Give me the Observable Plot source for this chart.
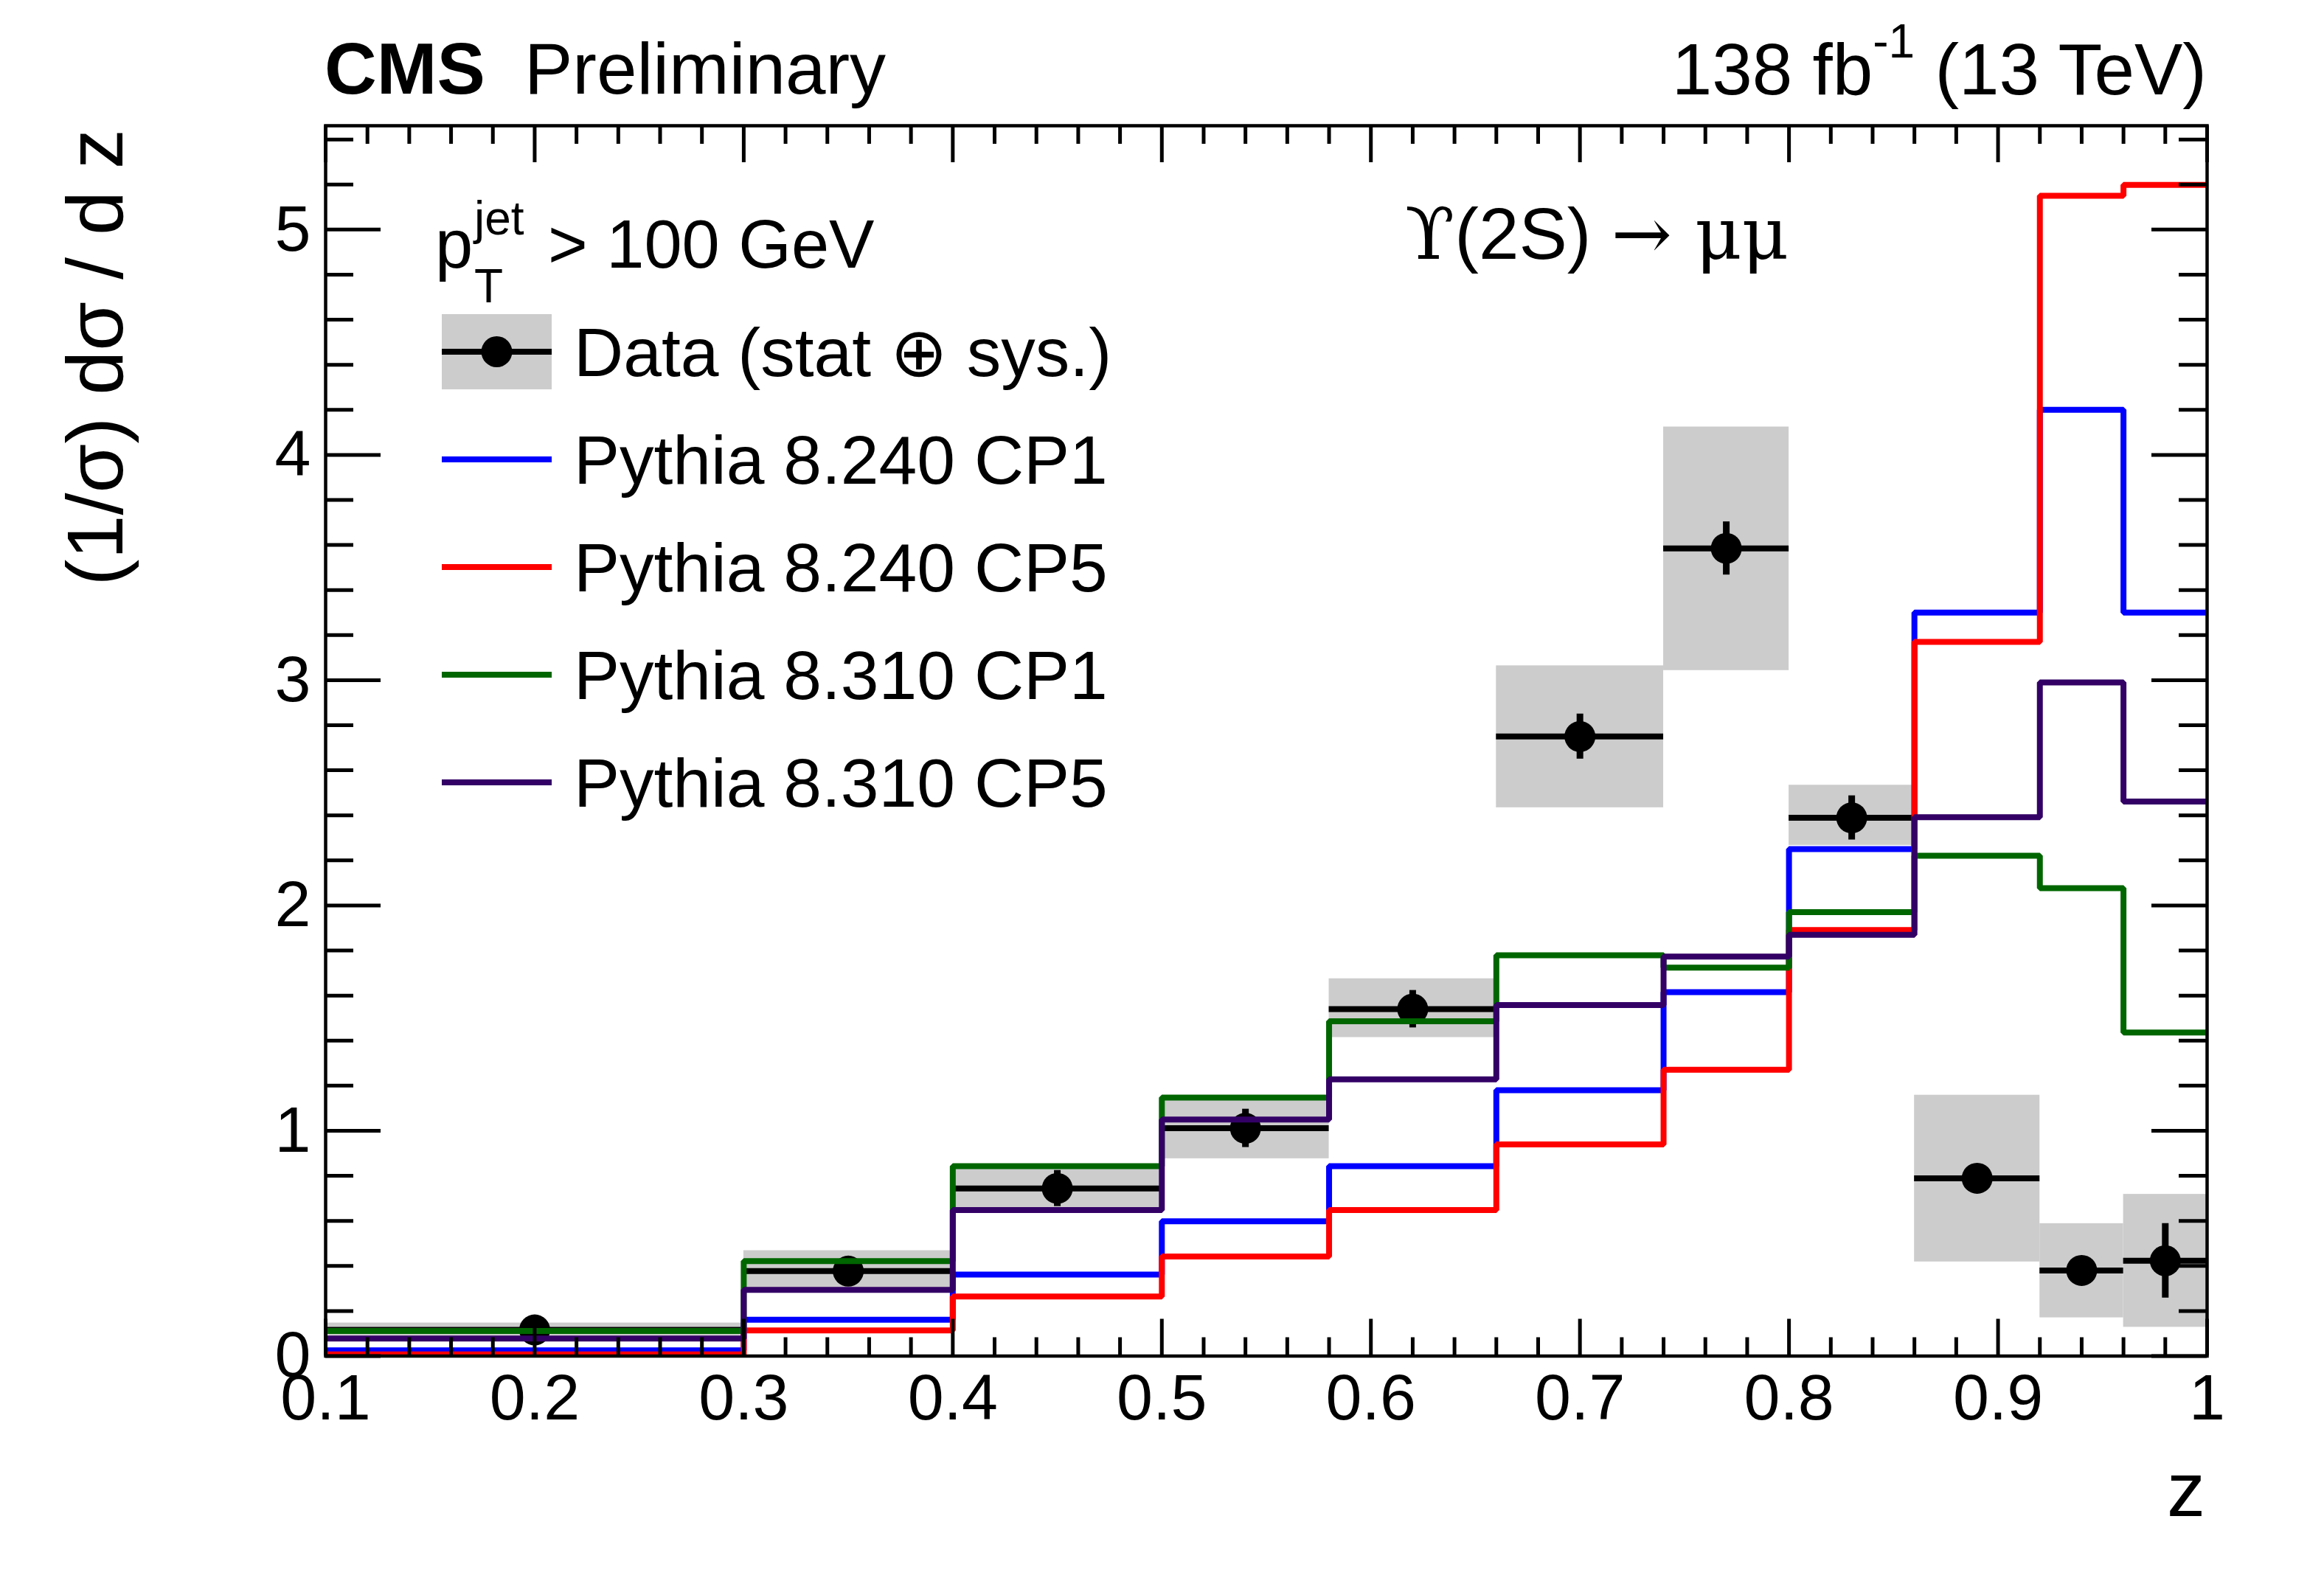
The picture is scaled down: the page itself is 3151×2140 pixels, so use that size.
<!DOCTYPE html>
<html>
<head>
<meta charset="utf-8">
<script src="https://cdn.jsdelivr.net/npm/d3@7"></script>
<script src="https://cdn.jsdelivr.net/npm/@observablehq/plot@0.6"></script>
<style>
  html, body { margin: 0; padding: 0; background: #ffffff; overflow: hidden; }
  #chart svg { display: block; }
</style>
</head>
<body>
<div id="chart"></div>
<script>
// ---------------- data ----------------
const binEdges = [0.1, 0.3, 0.4, 0.5, 0.58, 0.66, 0.74, 0.8, 0.86, 0.92, 0.96, 1.0];
const binCenters = [0.2, 0.35, 0.45, 0.54, 0.62, 0.70, 0.77, 0.83, 0.89, 0.94, 0.98];

const dataValues  = [0.116, 0.377, 0.744, 1.011, 1.540, 2.750, 3.585, 2.389, 0.789, 0.380, 0.423];
const dataStatErr = [0.020, 0.050, 0.080, 0.085, 0.083, 0.100, 0.118, 0.098, 0.050, 0.050, 0.165];
const dataTotLow  = [0.085, 0.295, 0.655, 0.876, 1.414, 2.434, 3.043, 2.267, 0.418, 0.170, 0.128];
const dataTotHigh = [0.147, 0.468, 0.840, 1.140, 1.675, 3.064, 4.124, 2.534, 1.158, 0.588, 0.718];

const py8240CP1 = [0.025, 0.161, 0.362, 0.598, 0.843, 1.180, 1.615, 2.250, 3.300, 4.200, 3.300];
const py8240CP5 = [0.007, 0.114, 0.264, 0.442, 0.648, 0.939, 1.271, 1.891, 3.170, 5.150, 5.198];
const py8310CP1 = [0.111, 0.421, 0.843, 1.147, 1.486, 1.779, 1.724, 1.970, 2.221, 2.077, 1.436];
const py8310CP5 = [0.078, 0.294, 0.648, 1.050, 1.228, 1.558, 1.773, 1.870, 2.392, 2.990, 2.461];

const seriesNames  = ["Pythia 8.240 CP1", "Pythia 8.240 CP5", "Pythia 8.310 CP1", "Pythia 8.310 CP5"];
const seriesValues = [py8240CP1, py8240CP5, py8310CP1, py8310CP5];
const seriesColors = ["#0000ff", "#ff0000", "#006600", "#330066"];

const xTickValues = [0.1, 0.2, 0.3, 0.4, 0.5, 0.6, 0.7, 0.8, 0.9, 1.0];
const xTickLabels = ["0.1", "0.2", "0.3", "0.4", "0.5", "0.6", "0.7", "0.8", "0.9", "1"];
const yTickValues = [0, 1, 2, 3, 4, 5];
const yTickLabels = ["0", "1", "2", "3", "4", "5"];

const dataLegend = "Data (stat \u2295 sys.)";

// ---------------- layout ----------------
const W = 3151, H = 2140;
const mL = 441, mR = 159, mT = 170, mB = 301.5;
const plotW = W - mL - mR, plotH = H - mT - mB;
const FONT = "'Liberation Sans', Arial, Helvetica, sans-serif";
const SERIF = "'DejaVu Serif', 'Liberation Serif', serif";

// minor ticks
const xMinor = d3.range(0, 46).map(i => +(0.1 + i * 0.02).toFixed(2)).filter(v => Math.abs(v * 10 - Math.round(v * 10)) > 1e-6);
const yMinor = d3.range(0, 28).map(i => +(i * 0.2).toFixed(1)).filter(v => Math.abs(v - Math.round(v)) > 1e-6);

// tables
const boxes = dataValues.map((v, i) => ({x1: binEdges[i], x2: binEdges[i + 1], lo: dataTotLow[i], hi: dataTotHigh[i]}));
const points = dataValues.map((v, i) => ({
  x: binCenters[i], y: v, x1: binEdges[i], x2: binEdges[i + 1],
  elo: v - dataStatErr[i], ehi: v + dataStatErr[i]
}));
function stepTable(vals) {
  return binEdges.map((e, i) => ({x: e, y: vals[Math.min(i, vals.length - 1)]}));
}

const marks = [
  Plot.rect(boxes, {x1: "x1", x2: "x2", y1: "lo", y2: "hi", fill: "#cccccc"}),
  Plot.ruleY(points, {y: "y", x1: "x1", x2: "x2", stroke: "black", strokeWidth: 8}),
  Plot.ruleX(points, {x: "x", y1: "elo", y2: "ehi", stroke: "black", strokeWidth: 9}),
  Plot.dot(points, {x: "x", y: "y", r: 21, fill: "black", stroke: "none"})
];
seriesValues.forEach((vals, k) => {
  marks.push(Plot.line(stepTable(vals), {
    x: "x", y: "y", curve: "step-after", stroke: seriesColors[k],
    strokeWidth: 8, strokeLinejoin: "miter", strokeLinecap: "butt"
  }));
});
// ticks (ROOT style, inside, on all four sides)
const tk = {stroke: "black", strokeWidth: 5};
marks.push(
  Plot.ruleX(xTickValues, {x: d => d, insetTop: plotH - 50, ...tk}),
  Plot.ruleX(xMinor, {x: d => d, insetTop: plotH - 25, ...tk}),
  Plot.ruleX(xTickValues, {x: d => d, insetBottom: plotH - 50, ...tk}),
  Plot.ruleX(xMinor, {x: d => d, insetBottom: plotH - 25, ...tk}),
  Plot.ruleY(yTickValues, {y: d => d, insetRight: plotW - 75, ...tk}),
  Plot.ruleY(yMinor, {y: d => d, insetRight: plotW - 38, ...tk}),
  Plot.ruleY(yTickValues, {y: d => d, insetLeft: plotW - 75, ...tk}),
  Plot.ruleY(yMinor, {y: d => d, insetLeft: plotW - 38, ...tk}),
  Plot.frame({stroke: "black", strokeWidth: 4.5}),
  Plot.axisX(xTickValues, {anchor: "bottom", tickSize: 0, tickPadding: 24, fontSize: 88,
    tickFormat: d => xTickLabels[xTickValues.indexOf(d)], label: null}),
  Plot.axisY(yTickValues, {anchor: "left", tickSize: 0, tickPadding: 20, fontSize: 88,
    tickFormat: d => yTickLabels[yTickValues.indexOf(d)], label: null})
);

const svg = Plot.plot({
  width: W, height: H,
  marginLeft: mL, marginRight: mR, marginTop: mT, marginBottom: mB,
  x: {type: "linear", domain: [0.1, 1.0]},
  y: {type: "linear", domain: [0, 5.461]},
  style: {fontFamily: FONT, background: "white", color: "black", overflow: "visible"},
  marks
});
document.getElementById("chart").appendChild(svg);

// ---------------- annotation text & legend ----------------
const s = d3.select(svg);
function txt(x, y, str, size, opt = {}) {
  return s.append("text").attr("x", x).attr("y", y)
    .attr("font-family", opt.family || FONT)
    .attr("font-size", size)
    .attr("font-weight", opt.weight || "normal")
    .attr("text-anchor", opt.anchor || "start")
    .attr("fill", "black")
    .text(str);
}
// header
txt(440, 127, "CMS", 98, {weight: "bold"});
txt(711, 127, "Preliminary", 98);
const lumi = s.append("text").attr("x", 2992).attr("y", 128).attr("text-anchor", "end")
  .attr("font-family", FONT).attr("font-size", 98).attr("fill", "black");
lumi.append("tspan").text("138 fb");
lumi.append("tspan").attr("font-size", 64).attr("dy", -50).text("-1");
lumi.append("tspan").attr("dy", 50).text(" (13 TeV)");

// axis titles
s.append("text").attr("transform", "translate(166,175) rotate(-90)")
  .attr("text-anchor", "end").attr("font-family", FONT).attr("font-size", 108)
  .attr("fill", "black").text("(1/\u03c3) d\u03c3 / d z");
txt(2990, 2056, "z", 104, {anchor: "end"});

// pT label
txt(590, 363, "p", 92);
txt(643, 318, "jet", 64);
txt(643, 410, "T", 64);
txt(743, 363, "> 100 GeV", 92);

// Upsilon label
const ups = s.append("text").attr("x", 1905).attr("y", 351).attr("text-anchor", "start")
  .attr("font-family", FONT).attr("font-size", 98).attr("fill", "black");
ups.append("tspan").attr("font-family", SERIF).text("\u03d2");
ups.append("tspan").text("(2S) ");
ups.append("tspan").attr("font-family", SERIF).text("\u2192 \u03bc\u03bc");

// legend
const legX1 = 599, legX2 = 748, legTextX = 778, legY0 = 477, legDY = 146;
s.append("rect").attr("x", legX1).attr("y", legY0 - 51).attr("width", legX2 - legX1).attr("height", 102).attr("fill", "#cccccc");
s.append("line").attr("x1", legX1).attr("x2", legX2).attr("y1", legY0).attr("y2", legY0).attr("stroke", "black").attr("stroke-width", 8);
s.append("circle").attr("cx", (legX1 + legX2) / 2).attr("cy", legY0).attr("r", 21).attr("fill", "black");
txt(legTextX, legY0 + 33, dataLegend, 93);
seriesNames.forEach((name, k) => {
  const yy = legY0 + legDY * (k + 1);
  s.append("line").attr("x1", legX1).attr("x2", legX2).attr("y1", yy).attr("y2", yy)
    .attr("stroke", seriesColors[k]).attr("stroke-width", 8);
  txt(legTextX, yy + 33, name, 93);
});
</script>
</body>
</html>
